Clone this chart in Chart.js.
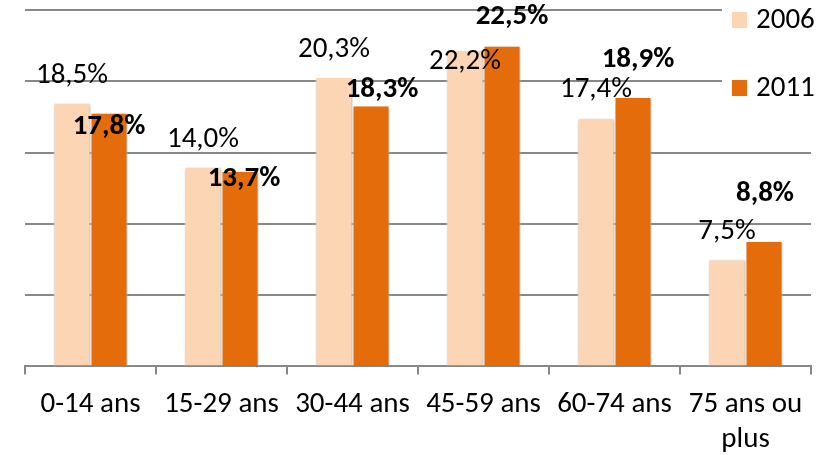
<!DOCTYPE html>
<html>
<head>
<meta charset="utf-8">
<script src="https://cdn.jsdelivr.net/npm/chart.js@4"></script>
<style>
  html, body { margin: 0; padding: 0; background: #fff; }
  #wrap { width: 825px; height: 455px; }
</style>
</head>
<body>
<div id="wrap"><canvas id="graphique"></canvas></div>
<script>
const categories = ['0-14 ans', '15-29 ans', '30-44 ans', '45-59 ans', '60-74 ans', ['75 ans ou', 'plus']];
const valeurs2006 = [18.5, 14.0, 20.3, 22.2, 17.4, 7.5];
const valeurs2011 = [17.8, 13.7, 18.3, 22.5, 18.9, 8.8];
const ticksY = [0, 5, 10, 15, 20, 25];

const police = 'Carlito, Lato, sans-serif';

// décalages des étiquettes (centre du texte par rapport au haut de la barre)
const decalages = [
  [[0, -27], [0, -27], [0, -27], [0, 12], [0, -29], [0, -28]],
  [[0, 14], [4, 8], [11, -16], [10, -29], [5, -37], [1, -47]]
];

const etiquettes = {
  id: 'etiquettes',
  afterDatasetsDraw(chart) {
    const ctx = chart.ctx;
    ctx.save();
    ctx.textAlign = 'center';
    ctx.textBaseline = 'middle';
    ctx.fillStyle = '#000';
    chart.data.datasets.forEach((ds, i) => {
      ctx.font = (i === 1 ? 'bold ' : '') + '29px ' + police;
      chart.getDatasetMeta(i).data.forEach((bar, j) => {
        const d = decalages[i][j];
        const texte = ds.data[j].toFixed(1).replace('.', ',') + '%';
        ctx.fillText(texte, bar.x + d[0], bar.y + d[1]);
      });
    });
    ctx.restore();
  }
};

const legende = {
  id: 'legende',
  afterDraw(chart) {
    const ctx = chart.ctx;
    ctx.save();
    ctx.fillStyle = '#fff';
    ctx.fillRect(722, 0, 103, 104);
    ctx.font = '29px ' + police;
    ctx.textBaseline = 'middle';
    chart.data.datasets.forEach((ds, i) => {
      const y = 20 + i * 68;
      ctx.fillStyle = ds.backgroundColor;
      ctx.fillRect(732, y - 8, 15, 16);
      ctx.fillStyle = '#000';
      ctx.fillText(ds.label, 756, y + 1);
    });
    ctx.restore();
  }
};

const ombre = {
  id: 'ombre',
  beforeDatasetsDraw(chart) {
    chart.ctx.save();
    chart.ctx.shadowColor = 'rgba(0,0,0,0.28)';
    chart.ctx.shadowBlur = 3;
    chart.ctx.shadowOffsetX = 1;
    chart.ctx.shadowOffsetY = 1;
  },
  afterDatasetsDraw(chart) {
    chart.ctx.restore();
  }
};

new Chart(document.getElementById('graphique'), {
  type: 'bar',
  data: {
    labels: categories,
    datasets: [
      { label: '2006', data: valeurs2006, backgroundColor: '#FCD5B4', borderColor: '#fff', borderWidth: 1, borderSkipped: 'bottom' },
      { label: '2011', data: valeurs2011, backgroundColor: '#E46C0A', borderColor: '#fff', borderWidth: 1, borderSkipped: 'bottom' }
    ]
  },
  options: {
    responsive: true,
    maintainAspectRatio: false,
    animation: false,
    categoryPercentage: 0.565,
    barPercentage: 1,
    layout: { padding: { left: 25, right: 14, top: 10, bottom: -15 } },
    plugins: {
      legend: { display: false },
      tooltip: { enabled: false }
    },
    scales: {
      x: {
        offset: true,
        grid: { offset: true, drawOnChartArea: false, color: '#888', lineWidth: 2, tickLength: 8 },
        border: { color: '#888', width: 2 },
        ticks: { color: '#000', padding: 13, maxRotation: 0, autoSkip: false, font: { family: police, size: 29, lineHeight: 1.2 } }
      },
      y: {
        min: 0,
        max: 25,
        afterBuildTicks(axis) { axis.ticks = ticksY.map(v => ({ value: v })); },
        grid: { color: '#888', lineWidth: 2, drawTicks: false },
        border: { display: false },
        ticks: { display: false }
      }
    }
  },
  plugins: [ombre, etiquettes, legende]
});
</script>
</body>
</html>
